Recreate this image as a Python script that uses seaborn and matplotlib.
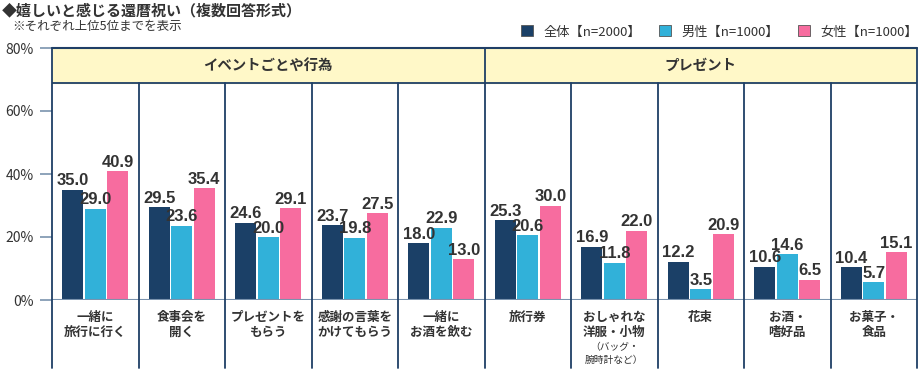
import pandas as pd
import numpy as np
import matplotlib.pyplot as plt
from matplotlib.patches import Patch
import seaborn as sns

# データ
items = ['一緒に\n旅行に行く', '食事会を\n開く', 'プレゼントを\nもらう', '感謝の言葉を\nかけてもらう', '一緒に\nお酒を飲む',
         '旅行券', 'おしゃれな\n洋服・小物', '花束', 'お酒・\n嗜好品', 'お菓子・\n食品']
notes = {6: '（バッグ・\n腕時計など）'}
groups = ['全体【n=2000】', '男性【n=1000】', '女性【n=1000】']
total = [35.0, 29.5, 24.6, 23.7, 18.0, 25.3, 16.9, 12.2, 10.6, 10.4]
male = [29.0, 23.6, 20.0, 19.8, 22.9, 20.6, 11.8, 3.5, 14.6, 5.7]
female = [40.9, 35.4, 29.1, 27.5, 13.0, 30.0, 22.0, 20.9, 6.5, 15.1]
sections = ['イベントごとや行為', 'プレゼント']
section_size = [5, 5]
yticks = [0, 20, 40, 60, 80]

df = pd.DataFrame({'item': items * 3,
                   'group': np.repeat(groups, len(items)),
                   'value': total + male + female})

palette = ['#1B4067', '#31B1D9', '#F76C9F']
navy = '#1F3F66'
txt = '#333333'

sns.set_theme(style='white')
plt.rcParams['font.family'] = ['Noto Sans CJK JP', 'DejaVu Sans']

fig = plt.figure(figsize=(9.2, 3.7), dpi=100)
ax = fig.add_axes([52 / 920, 70 / 370, 865 / 920, 252 / 370])

sns.barplot(data=df, x='item', y='value', hue='group', palette=palette, saturation=1,
            width=0.78, gap=0.08, ax=ax, legend=False, linewidth=0)

ax.set_xlim(-0.5, len(items) - 0.5)
ax.set_ylim(0, 80)
for s in ax.spines.values():
    s.set_visible(False)

# ヘッダー帯
band = 68.9
ax.axhspan(band, 80, color='#FFF8C8', zorder=0)
ax.axhline(band, color=navy, lw=1.3)
ax.axhline(80, color=navy, lw=1.5, clip_on=False)
ax.axhline(0, color='#7A93AE', lw=1.5)

# 区切り線
xt = ax.get_xaxis_transform()
bounds = [-0.5]
for n in section_size:
    bounds.append(bounds[-1] + n)
for i in range(len(items) + 1):
    x = i - 0.5
    top = 1 if x in bounds else band / 80
    ax.plot([x, x], [-0.27, top], color=navy, lw=1.3, transform=xt, clip_on=False, zorder=3)

start = -0.5
for name, n in zip(sections, section_size):
    ax.text(start + n / 2, (band + 80) / 2, name, ha='center', va='center',
            fontsize=10.4, fontweight='bold', color=txt)
    start += n

# 値ラベル
for c in ax.containers:
    ax.bar_label(c, fmt='%.1f', padding=1, fontsize=12, fontweight='bold',
                 color=txt, family=['Liberation Sans', 'DejaVu Sans'])

# 軸ラベル
ax.set_yticks(yticks)
ax.set_yticklabels([f'{v}%' for v in yticks], fontsize=10, color=txt)
ax.tick_params(axis='y', length=9, width=1.2, color='#7A93AE', pad=4, left=True)
ax.set_xticks([])
ax.set_xlabel('')
ax.set_ylabel('')

for i, lab in enumerate(items):
    ax.text(i, -0.042, lab, transform=xt, ha='center', va='top', fontsize=9,
            fontweight='bold', color=txt, linespacing=1.2, multialignment='center')
for i, note in notes.items():
    ax.text(i, -0.168, note, transform=xt, ha='center', va='top', fontsize=7,
            color=txt, linespacing=1.35, multialignment='center')

# タイトル・凡例
fig.text(2 / 920, 1 - 10 / 370, '◆嬉しいと感じる還暦祝い（複数回答形式）', ha='left', va='center',
         fontsize=10.8, fontweight='bold', color=txt)
fig.text(12 / 920, 1 - 26 / 370, '※それぞれ上位5位までを表示', ha='left', va='center',
         fontsize=9, color=txt)

handles = [Patch(facecolor=c, edgecolor='#555555', linewidth=0.6, label=g) for c, g in zip(palette, groups)]
fig.legend(handles=handles, loc='center right', bbox_to_anchor=(918 / 920, 1 - 32 / 370), ncol=3,
           frameon=False, fontsize=9.5, handlelength=0.9, handleheight=0.9, handletextpad=0.8,
           columnspacing=1.4, labelcolor=txt, borderpad=0, borderaxespad=0)

fig.savefig('out.png', dpi=100)
